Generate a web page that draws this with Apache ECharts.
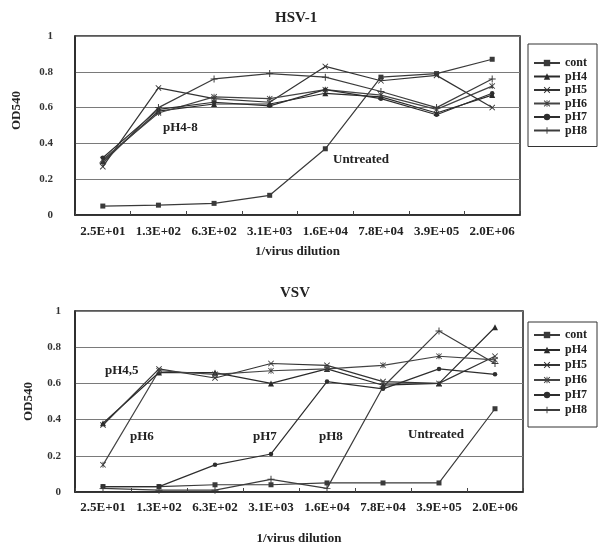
<!DOCTYPE html>
<html>
<head>
<meta charset="utf-8">
<script src="https://cdn.jsdelivr.net/npm/echarts@6/dist/echarts.min.js"></script>
<style>html,body{margin:0;padding:0;background:#fff}#c{width:601px;height:546px}</style>
</head>
<body>
<div id="c"></div>
<script>
// ---- data ----
var categories = ['2.5E+01','1.3E+02','6.3E+02','3.1E+03','1.6E+04','7.8E+04','3.9E+05','2.0E+06'];
var seriesNames = ['cont','pH4','pH5','pH6','pH7','pH8'];
var yTicks = [0, 0.2, 0.4, 0.6, 0.8, 1];

// HSV-1
var hsvCont = [0.05, 0.055, 0.065, 0.11, 0.37, 0.77, 0.79, 0.87];
var hsvPH4  = [0.30, 0.58, 0.62, 0.62, 0.68, 0.66, 0.57, 0.67];
var hsvPH5  = [0.27, 0.71, 0.65, 0.63, 0.83, 0.75, 0.78, 0.60];
var hsvPH6  = [0.31, 0.57, 0.66, 0.65, 0.70, 0.67, 0.59, 0.72];
var hsvPH7  = [0.32, 0.59, 0.63, 0.61, 0.70, 0.65, 0.56, 0.68];
var hsvPH8  = [0.29, 0.60, 0.76, 0.79, 0.77, 0.69, 0.60, 0.76];

// VSV
var vsvCont = [0.03, 0.03, 0.04, 0.04, 0.05, 0.05, 0.05, 0.46];
var vsvPH4  = [0.38, 0.66, 0.66, 0.60, 0.68, 0.59, 0.60, 0.91];
var vsvPH5  = [0.37, 0.68, 0.63, 0.71, 0.70, 0.61, 0.60, 0.75];
var vsvPH6  = [0.15, 0.67, 0.65, 0.67, 0.68, 0.70, 0.75, 0.73];
var vsvPH7  = [0.03, 0.03, 0.15, 0.21, 0.61, 0.57, 0.68, 0.65];
var vsvPH8  = [0.02, 0.01, 0.01, 0.07, 0.02, 0.58, 0.89, 0.71];

var hsvData = [hsvCont, hsvPH4, hsvPH5, hsvPH6, hsvPH7, hsvPH8];
var vsvData = [vsvCont, vsvPH4, vsvPH5, vsvPH6, vsvPH7, vsvPH8];

// ---- styles ----
var FONT = '"Liberation Serif", "DejaVu Serif", serif';
var symX = 'path://M1,0L5,4L9,0L10,1L6,5L10,9L9,10L5,6L1,10L0,9L4,5L0,1Z';
var symStar = 'path://M1,0L5,4L9,0L10,1L6,5L10,9L9,10L5,6L1,10L0,9L4,5L0,1Z M4.3,0L5.7,0L5.7,10L4.3,10Z';
var symPlus = 'path://M4.3,0L5.7,0L5.7,4.3L10,4.3L10,5.7L5.7,5.7L5.7,10L4.3,10L4.3,5.7L0,5.7L0,4.3L4.3,4.3Z';
var symbols = ['rect', 'triangle', symX, symStar, 'circle', symPlus];
var symSizes = [5, 6, 6, 6, 4.5, 7];
var colors = ['#3a3a3a', '#2a2a2a', '#333333', '#444444', '#2e2e2e', '#3c3c3c'];

function mkSeries(dataSets, idx) {
  return dataSets.map(function (d, i) {
    return {
      name: seriesNames[i], type: 'line', xAxisIndex: idx, yAxisIndex: idx,
      data: d, symbol: symbols[i], symbolSize: symSizes[i], showSymbol: true,
      itemStyle: {color: colors[i]},
      lineStyle: {color: colors[i], width: 1.2},
      animation: false, z: 3
    };
  });
}

function xAx(idx, margin, nameGap) {
  return {
    type: 'category', gridIndex: idx, data: categories, boundaryGap: true,
    axisLine: {show: true, lineStyle: {color: '#222', width: 1.5}},
    axisTick: {show: true, inside: true, length: 4, lineStyle: {color: '#444'}},
    axisLabel: {color: '#222', fontFamily: FONT, fontWeight: 'bold', fontSize: 13, margin: margin, interval: 0},
    name: '1/virus dilution', nameLocation: 'middle', nameGap: nameGap,
    nameTextStyle: {color: '#222', fontFamily: FONT, fontWeight: 'bold', fontSize: 13},
    splitLine: {show: false}
  };
}
function yAx(idx, margin, nameGap, namePad) {
  return {
    type: 'value', gridIndex: idx, min: yTicks[0], max: yTicks[yTicks.length - 1], interval: 0.2,
    axisLine: {show: true, lineStyle: {color: '#222', width: 1.5}},
    axisTick: {show: false},
    axisLabel: {color: '#333', fontFamily: FONT, fontWeight: 'bold', fontSize: 11, margin: margin},
    splitLine: {show: true, lineStyle: {color: '#7a7a7a', width: 1}},
    name: 'OD540', nameLocation: 'middle', nameGap: nameGap,
    nameTextStyle: {color: '#222', fontFamily: FONT, fontWeight: 'bold', fontSize: 13, padding: namePad}
  };
}
function legend(top, pad, gap) {
  return {
    show: true, orient: 'vertical', left: 528, top: top,
    data: seriesNames, selectedMode: false,
    borderColor: '#333', borderWidth: 1, padding: pad,
    itemWidth: 26, itemHeight: 8, itemGap: gap,
    textStyle: {color: '#222', fontFamily: FONT, fontWeight: 'bold', fontSize: 12}
  };
}

function annot(text, x, y) {
  return {type: 'text', left: x, top: y, style: {text: text, fill: '#222', font: 'bold 13px ' + FONT}, z: 10};
}

var chart = echarts.init(document.getElementById('c'), null, {renderer: 'canvas'});
chart.setOption({
  backgroundColor: '#fff',
  animation: false,
  title: [
    {text: 'HSV-1', left: 270, top: 6, textStyle: {color: '#222', fontFamily: FONT, fontWeight: 'bold', fontSize: 15}},
    {text: 'VSV', left: 275, top: 281, textStyle: {color: '#222', fontFamily: FONT, fontWeight: 'bold', fontSize: 15}}
  ],
  grid: [
    {left: 75, right: 81, top: 36, height: 179, show: true, borderColor: '#222', borderWidth: 1.5, backgroundColor: 'transparent'},
    {left: 75, right: 78, top: 311, height: 181, show: true, borderColor: '#222', borderWidth: 1.5, backgroundColor: 'transparent'}
  ],
  xAxis: [xAx(0, 10, 30), xAx(1, 9, 40)],
  yAxis: [yAx(0, 22, 52, [0, 0, 0, 30]), yAx(1, 14, 40, 0)],
  legend: [
    legend(44, [13, 10, 10, 5], 1.5),
    legend(322, [7, 10, 11, 5], 3)
  ],
  series: mkSeries(hsvData, 0).concat(mkSeries(vsvData, 1)),
  graphic: [
    annot('pH4-8', 163, 121),
    annot('Untreated', 333, 153),
    annot('pH4,5', 105, 364),
    annot('pH6', 130, 430),
    annot('pH7', 253, 430),
    annot('pH8', 319, 430),
    annot('Untreated', 408, 428)
  ]
});
</script>
</body>
</html>
